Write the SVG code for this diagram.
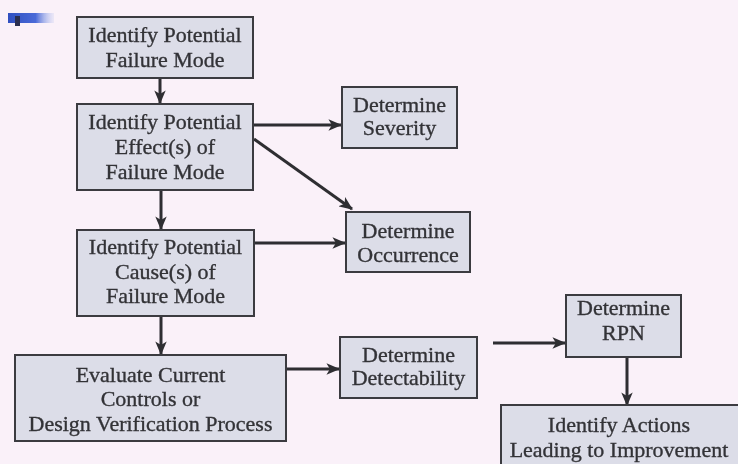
<svg xmlns="http://www.w3.org/2000/svg" width="738" height="464" viewBox="0 0 738 464">
  <defs>
    <linearGradient id="tabGrad" x1="0" y1="0" x2="1" y2="0">
      <stop offset="0" stop-color="#2f4fc0"/>
      <stop offset="0.6" stop-color="#4a6ad8"/>
      <stop offset="1" stop-color="#b8c4f0" stop-opacity="0.2"/>
    </linearGradient>
    <filter id="soft" x="-5%" y="-5%" width="110%" height="110%">
      <feGaussianBlur stdDeviation="0.6"/>
    </filter>
    <marker id="arrow" viewBox="0 0 12 10" refX="11" refY="5" markerWidth="4.6" markerHeight="3.8" markerUnits="strokeWidth" orient="auto">
      <path d="M0,0 L12,5 L0,10 L3,5 Z" fill="#2f2f33"/>
    </marker>
  </defs>
  <style>
    .box { fill: #dcdde8; stroke: #3b3b40; stroke-width: 2; }
    .lbl { font-family: "Liberation Serif", "Times New Roman", serif; font-size: 22px; fill: #333337; stroke: #333337; stroke-width: 0.35; text-anchor: middle; }
    .edge { stroke: #2f2f33; stroke-width: 3; fill: none; marker-end: url(#arrow); }
  </style>

  <!-- page -->
  <rect x="0" y="0" width="738" height="464" fill="#faf1f9"/>

  <!-- section tab -->
  <rect x="8" y="13" width="46" height="10" fill="url(#tabGrad)" filter="url(#soft)"/>
  <rect x="15" y="16" width="5" height="10" fill="#2a2f50" filter="url(#soft)"/>

  <g filter="url(#soft)">
    <!-- connectors -->
    <g id="connectors">
      <line class="edge" x1="160" y1="79" x2="160" y2="103"/>
      <line class="edge" x1="254" y1="125" x2="341" y2="125"/>
      <line class="edge" x1="254" y1="139" x2="352" y2="209"/>
      <line class="edge" x1="161" y1="191" x2="161" y2="229"/>
      <line class="edge" x1="255" y1="243" x2="345" y2="243"/>
      <line class="edge" x1="161" y1="317" x2="161" y2="354"/>
      <line class="edge" x1="287" y1="369" x2="339" y2="369"/>
      <line class="edge" x1="493" y1="343" x2="565" y2="343"/>
      <line class="edge" x1="627" y1="358" x2="627" y2="405"/>
    </g>

    <g id="failure-mode">
      <rect class="box" x="77" y="17" width="176" height="61"/>
      <text class="lbl" x="165" y="42">Identify Potential</text>
      <text class="lbl" x="165" y="67">Failure Mode</text>
    </g>

    <g id="effects">
      <rect class="box" x="77" y="104" width="176" height="86"/>
      <text class="lbl" x="165" y="129">Identify Potential</text>
      <text class="lbl" x="165" y="154">Effect(s) of</text>
      <text class="lbl" x="165" y="179">Failure Mode</text>
    </g>

    <g id="causes">
      <rect class="box" x="77" y="230" width="177" height="86"/>
      <text class="lbl" x="165.5" y="254">Identify Potential</text>
      <text class="lbl" x="165.5" y="279">Cause(s) of</text>
      <text class="lbl" x="165.5" y="303">Failure Mode</text>
    </g>

    <g id="controls">
      <rect class="box" x="15" y="355" width="271" height="86"/>
      <text class="lbl" x="150.5" y="382">Evaluate Current</text>
      <text class="lbl" x="150.5" y="406">Controls or</text>
      <text class="lbl" x="150.5" y="431">Design Verification Process</text>
    </g>

    <g id="severity">
      <rect class="box" x="342" y="87" width="115" height="61"/>
      <text class="lbl" x="399.5" y="112">Determine</text>
      <text class="lbl" x="399.5" y="135">Severity</text>
    </g>

    <g id="occurrence">
      <rect class="box" x="346" y="212" width="124" height="60"/>
      <text class="lbl" x="408" y="238">Determine</text>
      <text class="lbl" x="408" y="262">Occurrence</text>
    </g>

    <g id="detectability">
      <rect class="box" x="340" y="337" width="137" height="61"/>
      <text class="lbl" x="408.5" y="362">Determine</text>
      <text class="lbl" x="408.5" y="385">Detectability</text>
    </g>

    <g id="rpn">
      <rect class="box" x="566" y="295" width="115" height="62"/>
      <text class="lbl" x="623.5" y="315">Determine</text>
      <text class="lbl" x="623.5" y="340">RPN</text>
    </g>

    <g id="actions">
      <rect class="box" x="501" y="405" width="250" height="70"/>
      <text class="lbl" x="619" y="432">Identify Actions</text>
      <text class="lbl" x="619" y="457">Leading to Improvement</text>
    </g>
  </g>
</svg>
